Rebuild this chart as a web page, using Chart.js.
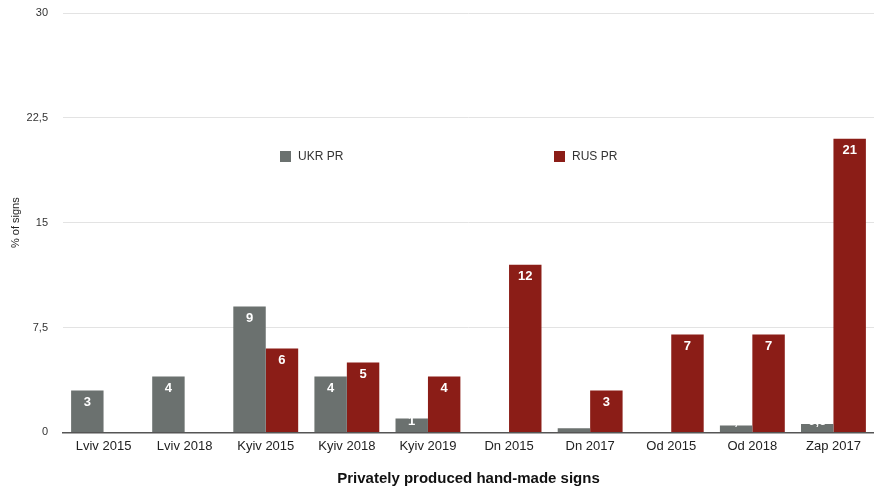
<!DOCTYPE html>
<html>
<head>
<meta charset="utf-8">
<script src="https://cdn.jsdelivr.net/npm/chart.js@4/dist/chart.umd.min.js"></script>
<style>
  html, body { margin:0; padding:0; background:#fff; }
  #wrap { width:874px; height:488px; position:relative; }
</style>
</head>
<body>
<div id="wrap"><canvas id="signs-chart"></canvas></div>
<script>
var categories = ["Lviv 2015","Lviv 2018","Kyiv 2015","Kyiv 2018","Kyiv 2019","Dn 2015","Dn 2017","Od 2015","Od 2018","Zap 2017"];
var ukrValues = [3,4,9,4,1,0,0.3,0,0.5,0.6];
var rusValues = [0,0,6,5,4,12,3,7,7,21];
var yTicks = [0,7.5,15,22.5,30];

var FONT = "'Liberation Sans', Arial, sans-serif";
var GRAY = "#6b716f";
var RED = "#8b1d17";

function fmt(v) {
  return String(v).replace(".", ",");
}

// white value labels at the top of each bar
let barLabels = {
  id: "barLabels",
  afterDatasetsDraw(chart) {
    let ctx = chart.ctx;
    let base = chart.scales.y.getPixelForValue(0);
    ctx.save();
    ctx.font = "bold 13px " + FONT;
    ctx.fillStyle = "#ffffff";
    ctx.textAlign = "center";
    ctx.textBaseline = "middle";
    chart.data.datasets.forEach(function(ds, i) {
      chart.getDatasetMeta(i).data.forEach(function(bar, j) {
        let y = Math.min(bar.y + 12, base - 11);
        ctx.fillText(fmt(ds.data[j]), bar.x, y);
      });
    });
    ctx.restore();
  }
};

// legend sits inside the plot, two items far apart
let innerLegend = {
  id: "innerLegend",
  afterDraw(chart) {
    let ctx = chart.ctx;
    let spots = [280, 554];
    ctx.save();
    ctx.font = "12px " + FONT;
    ctx.textBaseline = "middle";
    chart.data.datasets.forEach(function(ds, i) {
      ctx.fillStyle = ds.backgroundColor;
      ctx.fillRect(spots[i], 151, 11, 11);
      ctx.fillStyle = "#333";
      ctx.fillText(ds.label, spots[i] + 18, 157);
    });
    ctx.restore();
  }
};

new Chart("signs-chart", {
  type: "bar",
  data: {
    labels: categories,
    datasets: [
      { label: "UKR PR", data: ukrValues, backgroundColor: GRAY, barPercentage: 1, categoryPercentage: 0.8 },
      { label: "RUS PR", data: rusValues, backgroundColor: RED, barPercentage: 1, categoryPercentage: 0.8 }
    ]
  },
  options: {
    responsive: true,
    maintainAspectRatio: false,
    animation: false,
    layout: { padding: { top: 13, right: 0, left: 9, bottom: 0 } },
    plugins: {
      legend: { display: false },
      tooltip: { enabled: false }
    },
    scales: {
      x: {
        grid: { display: false },
        border: { color: "#555", width: 1.5 },
        ticks: { color: "#222", font: { size: 13, family: FONT }, maxRotation: 0, padding: -2 },
        title: {
          display: true,
          text: "Privately produced hand-made signs",
          color: "#111",
          font: { size: 15, weight: "bold", family: FONT },
          padding: { top: 18, bottom: 0 }
        }
      },
      y: {
        min: 0,
        max: 30,
        afterBuildTicks(axis) {
          axis.ticks = yTicks.map(function(v) { return { value: v }; });
        },
        afterFit(axis) {
          axis.width = 54;
          axis.paddingTop = 0;
        },
        grid: { color: "#e3e3e3", drawTicks: false },
        border: { display: false },
        ticks: {
          color: "#333",
          font: { size: 11, family: FONT },
          padding: 15,
          callback: function(v) { return fmt(v); }
        },
        title: {
          display: true,
          text: "% of signs",
          color: "#222",
          font: { size: 11, family: FONT },
          padding: { top: 0, bottom: 0 }
        }
      }
    }
  },
  plugins: [barLabels, innerLegend]
});
</script>
</body>
</html>
